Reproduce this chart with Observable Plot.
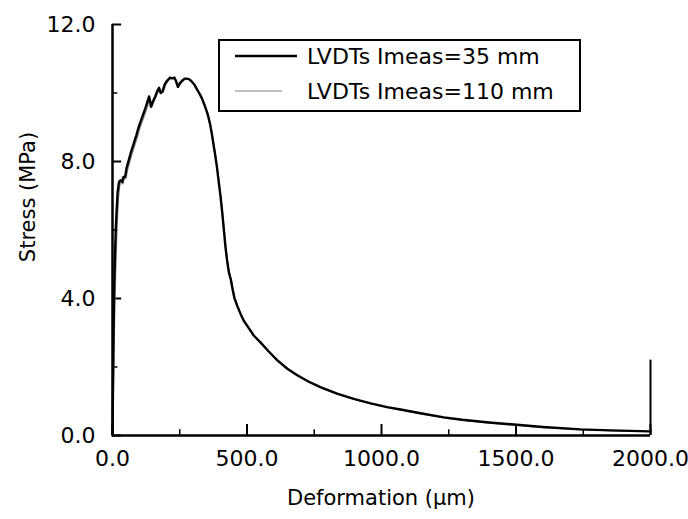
<!DOCTYPE html>
<html>
<head>
<meta charset="utf-8">
<script src="https://cdn.jsdelivr.net/npm/d3@7"></script>
<script src="https://cdn.jsdelivr.net/npm/@observablehq/plot@0.6"></script>
<style>
  html, body { margin: 0; padding: 0; background: #fff; }
  #chart svg { display: block; }
</style>
</head>
<body>
<div id="chart"></div>
<script>
// Series: LVDTs lmeas = 35 mm (black)
const def35 = [0,2,4,6,9,12,15,19,24,30,36,41,47,52,59,68,78,88,97,106,115,122,128,136,140,143,150,159,166,173,179,186,194,202,214,222,230,236,243,250,258,268,276,286,295,304,313,322,332,342,351,357,363,369,375,382,388,395,402,408,414,420,427,433,440,447,453,463,476,488,501,525,550,580,612,650,687,730,773,835,897,960,1021,1071,1145,1232,1300,1400,1492,1600,1740,1850,2000];
const str35 = [0,1.5,3.0,4.2,5.2,6.0,6.5,7.1,7.4,7.45,7.4,7.55,7.55,7.8,8.0,8.25,8.5,8.75,9.0,9.2,9.4,9.55,9.7,9.9,9.75,9.6,9.75,9.9,10.05,10.15,10.0,10.05,10.25,10.35,10.45,10.43,10.45,10.35,10.18,10.28,10.35,10.42,10.42,10.4,10.33,10.25,10.12,10.0,9.85,9.65,9.45,9.28,9.08,8.82,8.52,8.18,7.85,7.4,6.95,6.5,6.0,5.5,5.05,4.75,4.55,4.25,4.02,3.8,3.55,3.35,3.2,2.92,2.72,2.46,2.2,1.95,1.76,1.57,1.41,1.22,1.07,0.94,0.83,0.76,0.65,0.53,0.46,0.38,0.32,0.25,0.18,0.15,0.12];

// Series: LVDTs lmeas = 110 mm (grey)
const def110 = [0,3,6,9,12,15,18,22,27,33,39,44,50,56,63,72,82,92,101,110,119,126,132,139,143,147,153,162,169,176,182,189,197,205,216,224,232,238,245,252,260,270,278,288,297,306,315,324,334,344,353,359,365,371,377,384,390,397,404,410,416,422,429,435,442,449,455,465,478,490,503,527,552,582,614,652,689,732,775,837,899,962,1023,1073,1147,1234,1302,1402,1494,1602,1742,1852,2000];
const str110 = [0,1.2,2.6,3.8,4.8,5.6,6.3,6.9,7.3,7.4,7.35,7.5,7.5,7.75,7.95,8.2,8.45,8.7,8.95,9.15,9.35,9.5,9.65,9.85,9.72,9.6,9.72,9.88,10.02,10.12,10.0,10.03,10.22,10.33,10.43,10.41,10.43,10.33,10.16,10.26,10.34,10.41,10.41,10.38,10.31,10.22,10.1,9.98,9.83,9.62,9.42,9.25,9.04,8.78,8.48,8.12,7.8,7.35,6.9,6.45,5.96,5.47,5.02,4.72,4.52,4.22,4.0,3.78,3.53,3.33,3.18,2.9,2.7,2.44,2.18,1.93,1.74,1.55,1.39,1.2,1.05,0.92,0.81,0.74,0.63,0.51,0.44,0.36,0.3,0.23,0.17,0.14,0.11];

const seriesNames = ["LVDTs Imeas=35 mm", "LVDTs Imeas=110 mm"];
const xMajor = [0, 500, 1000, 1500, 2000];
const xMinor = [250, 750, 1250, 1750];
const yMajor = [0, 4, 8, 12];
const yMinor = [2, 6, 10];
const xTitle = "Deformation (µm)";
const yTitle = "Stress (MPa)";

const data35 = def35.map((d, i) => ({x: d, y: str35[i]}));
const data110 = def110.map((d, i) => ({x: d, y: str110[i]}));

const FONT = "DejaVu Sans, sans-serif";

const chart = Plot.plot({
  width: 688,
  height: 519,
  marginLeft: 112,
  marginRight: 38,
  marginTop: 24,
  marginBottom: 84,
  style: {fontFamily: FONT, fontSize: "22px", color: "#000", background: "#fff", overflow: "visible"},
  x: {domain: [0, 2000]},
  y: {domain: [0, 12]},
  marks: [
    // tick labels
    Plot.axisX(xMajor, {tickSize: 0, tickPadding: 15, tickFormat: d => d.toFixed(1), fontSize: 22, label: null}),
    Plot.axisY(yMajor, {tickSize: 0, tickPadding: 17, tickFormat: d => d.toFixed(1), fontSize: 22, label: null}),
    // inward ticks
    Plot.ruleX(xMajor, {y1: 0, y2: 0.32, stroke: "#000", strokeWidth: 2}),
    Plot.ruleX(xMinor, {y1: 0, y2: 0.17, stroke: "#000", strokeWidth: 1.5}),
    Plot.ruleY(yMajor, {x1: 0, x2: 34, stroke: "#000", strokeWidth: 2}),
    Plot.ruleY(yMinor, {x1: 0, x2: 20, stroke: "#000", strokeWidth: 1.5}),
    // right end segment at x = 2000
    Plot.ruleX([2000], {y1: 0, y2: 2.2, stroke: "#000", strokeWidth: 2}),
    // curves
    Plot.line(data110, {x: "x", y: "y", stroke: "#808080", strokeWidth: 1.2}),
    Plot.line(data35, {x: "x", y: "y", stroke: "#000", strokeWidth: 2.4}),
    // axis lines
    Plot.ruleX([0], {stroke: "#000", strokeWidth: 2.5}),
    Plot.ruleY([0], {stroke: "#000", strokeWidth: 2.5})
  ]
});

document.getElementById("chart").appendChild(chart);

const svg = d3.select(chart);

// Axis titles
const titles = svg.append("g").style("font-family", FONT).style("font-size", "21px")
  .attr("text-anchor", "middle").attr("fill", "#000");
titles.append("text").attr("x", 381).attr("y", 497).attr("dy", "0.36em")
  .attr("text-anchor", "middle").text(xTitle);
titles.append("text").attr("transform", "translate(27,197) rotate(-90)").attr("dy", "0.36em")
  .attr("text-anchor", "middle").text(yTitle);

// Legend
const lg = svg.append("g")
  .style("font-family", FONT).style("font-size", "22px")
  .attr("text-anchor", "start");
lg.append("rect").attr("x", 219).attr("y", 40).attr("width", 361).attr("height", 71)
  .attr("fill", "#fff").attr("stroke", "#000").attr("stroke-width", 2);
const legendItems = [
  {name: seriesNames[0], stroke: "#000", w: 2.4, x2: 297, y: 56},
  {name: seriesNames[1], stroke: "#808080", w: 1.2, x2: 282, y: 91}
];
legendItems.forEach(it => {
  lg.append("line").attr("x1", 235).attr("x2", it.x2).attr("y1", it.y).attr("y2", it.y)
    .attr("stroke", it.stroke).attr("stroke-width", it.w);
  lg.append("text").attr("x", 307).attr("y", it.y).attr("dy", "0.36em")
    .attr("text-anchor", "start").attr("fill", "#000").text(it.name);
});
</script>
</body>
</html>
